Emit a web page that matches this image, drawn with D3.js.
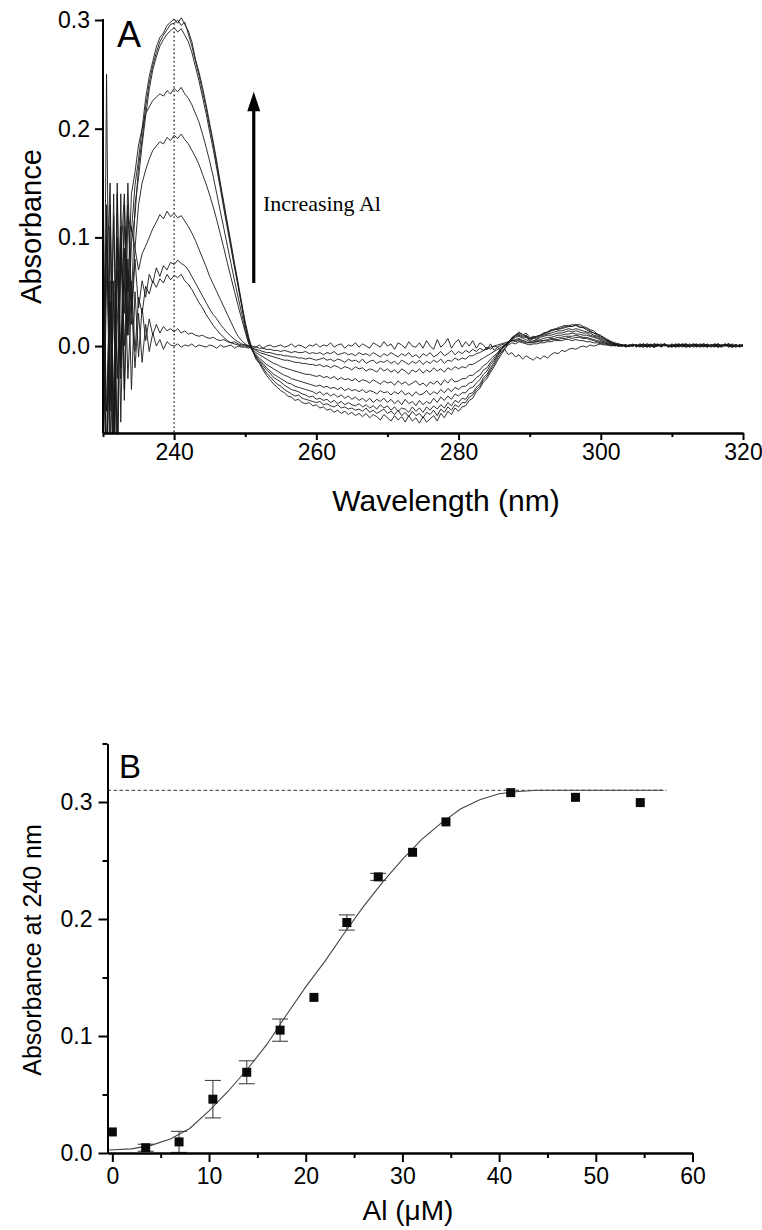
<!DOCTYPE html>
<html>
<head>
<meta charset="utf-8">
<script src="https://cdn.jsdelivr.net/npm/d3@7"></script>
<style>
  body { margin: 0; background: #fff; }
  svg { display: block; }
  text { font-family: "Liberation Sans", Arial, sans-serif; fill: #000; }
</style>
</head>
<body>
<svg id="fig" width="762" height="1230"></svg>
<script>
(function () {
    'use strict';

    // ---- Panel A: difference spectra, milli-absorbance, 0.5 nm steps from 230 to 320 nm
    // spec0 = no Al ... spec9 = highest Al. one line = 5 nm
    const wlStart = 230, wlStep = 0.5;

    const spec0 = [
        100, -60, 60, -130, 140, -70, 90, -30, 40, -20,
        30, -15, 20, -5, 12, 0, 6, -3, 4, 1,
        0, 2, -1, 1, 0, 2, -1, 1, 0, -1,
        1, 0, -2, 1, -1, 0, 1, -2, 0, -1,
        -1, -2, 0, -1, 1, -2, 0, 1, -1, 0,
        1, -1, 0, 2, -1, 1, 0, -2, 1, 0,
        2, -1, 1, 0, 3, -1, 1, 2, -2, 1,
        0, 3, -1, 2, 0, -2, 3, 1, -1, 4,
        0, 2, -3, 3, 1, -2, 4, 0, -1, 3,
        -2, 5, 0, -3, 6, -1, 2, 7, -2, 3,
        6, -1, 4, 0, 5, -2, 3, 1, -3, 2,
        -4, -1, -6, -3, -8, -6, -10, -8, -12, -9,
        -11, -13, -10, -12, -9, -11, -8, -6, -7, -4,
        -5, -3, -2, -3, -1, 0, -1, 1, 0, 1,
        2, 1, 1, 0, 1, 0, 1, -1, 0, 1,
        0, 1, 0, 2, 0, -1, 1, 0, 1, 0,
        1, 0, 1, -1, 1, 0, 2, 0, 1, 0,
        -1, 1, 0, 1, 0, 2, 0, 1, -1, 1,
        0];
    const spec1 = [
        -70, 130, -100, 50, -150, 100, 0, 80, -40, 50,
        -10, 35, 5, 25, 10, 20, 12, 18, 14, 16,
        13, 16, 12, 14, 11, 12, 10, 9, 10, 8,
        7, 8, 6, 5, 6, 4, 3, 4, 2, 1,
        1, 0, -1, -1, -2, -2, -3, -3, -4, -4,
        -5, -4, -5, -6, -5, -6, -6, -5, -7, -6,
        -7, -6, -8, -6, -7, -5, -8, -7, -6, -8,
        -7, -9, -6, -8, -7, -9, -6, -8, -10, -7,
        -9, -6, -8, -10, -7, -9, -6, -10, -8, -11,
        -7, -9, -6, -10, -8, -5, -9, -7, -4, -8,
        -5, -7, -4, -6, -3, -5, -2, -4, -1, -3,
        0, -1, 1, 2, 1, 3, 2, 4, 3, 2,
        1, 2, 2, 3, 3, 4, 4, 5, 5, 5,
        6, 6, 5, 6, 5, 5, 4, 4, 3, 3,
        2, 2, 1, 1, 0, 1, 0, 1, 0, 0,
        1, 0, 2, 0, 1, -1, 1, 0, 1, 1,
        0, 1, -1, 1, 0, 2, 0, 1, 0, 1,
        0, 1, 1, -1, 0, 1, 2, 0, 1, 0,
        1];
    const spec2 = [
        150, -110, 40, -140, 90, -20, 130, 10, 60, -5,
        45, 30, 55, 48, 60, 54, 62, 58, 66, 61,
        65, 63, 66, 60, 57, 52, 46, 40, 35, 29,
        24, 19, 15, 11, 8, 5, 3, 2, 1, 0,
        0, -1, -2, -3, -4, -5, -6, -6, -7, -8,
        -8, -9, -9, -10, -10, -11, -11, -12, -11, -12,
        -13, -12, -11, -13, -12, -14, -12, -13, -15, -12,
        -14, -13, -15, -12, -16, -14, -13, -16, -14, -15,
        -13, -16, -14, -17, -13, -15, -17, -14, -16, -13,
        -17, -14, -16, -13, -15, -12, -16, -13, -14, -11,
        -13, -11, -12, -9, -9, -7, -6, -4, -3, -1,
        0, 1, 2, 3, 4, 5, 4, 5, 4, 3,
        3, 3, 4, 4, 5, 5, 6, 6, 6, 7,
        7, 8, 7, 8, 8, 7, 7, 6, 5, 4,
        3, 3, 2, 1, 1, 0, 0, 1, 0, 1,
        1, 0, -1, 1, 0, 2, 1, 0, 1, 0,
        0, 2, 1, 0, -1, 1, 0, 1, 2, 0,
        1, -1, 0, 1, 1, 0, 2, 0, 1, -1,
        0];
    const spec3 = [
        -130, 60, 150, -90, 20, 110, -50, 70, 20, 80,
        35, 60, 45, 66, 58, 72, 64, 74, 70, 77,
        75, 79, 76, 74, 70, 64, 58, 52, 46, 40,
        34, 29, 25, 20, 16, 12, 9, 6, 4, 2,
        1, 0, -2, -4, -6, -7, -8, -9, -10, -11,
        -12, -13, -13, -14, -15, -15, -16, -16, -17, -17,
        -18, -17, -19, -18, -20, -18, -19, -21, -19, -20,
        -22, -19, -21, -20, -23, -21, -22, -24, -20, -23,
        -21, -24, -22, -25, -21, -23, -26, -22, -24, -21,
        -25, -22, -24, -20, -23, -21, -24, -20, -22, -19,
        -21, -19, -20, -17, -17, -15, -13, -11, -9, -7,
        -5, -3, -1, 1, 3, 5, 5, 6, 5, 4,
        3, 4, 4, 5, 5, 6, 7, 7, 8, 8,
        9, 9, 9, 10, 9, 8, 8, 7, 6, 5,
        4, 3, 2, 2, 1, 0, 1, 0, 0, 1,
        0, 1, 1, -1, 0, 1, 2, 0, 1, 0,
        -1, 1, 0, 1, 2, 0, 1, 1, 0, -1,
        1, 0, 1, 2, 0, 1, 0, -1, 1, 0,
        1];
    const spec4 = [
        120, -150, 40, -70, 100, -10, 60, 130, 30, 90,
        70, 85, 92, 100, 108, 114, 121, 117, 124, 119,
        122, 118, 120, 115, 110, 104, 97, 89, 81, 73,
        64, 57, 50, 43, 36, 29, 22, 15, 9, 5,
        2, 0, -3, -6, -8, -10, -12, -14, -16, -17,
        -19, -20, -21, -22, -23, -24, -25, -26, -26, -27,
        -28, -27, -29, -28, -30, -28, -31, -29, -31, -30,
        -32, -30, -33, -31, -32, -34, -31, -33, -35, -32,
        -34, -33, -36, -32, -35, -33, -36, -34, -32, -36,
        -34, -37, -33, -35, -32, -36, -31, -34, -30, -33,
        -32, -30, -30, -27, -27, -24, -22, -18, -16, -12,
        -9, -6, -2, 1, 3, 5, 6, 7, 5, 6,
        4, 5, 5, 6, 7, 8, 8, 9, 10, 10,
        11, 11, 12, 11, 11, 10, 10, 9, 8, 7,
        5, 4, 3, 2, 1, 0, 1, 0, 1, 0,
        1, 0, 2, 0, 1, -1, 0, 1, 2, 0,
        1, -1, 0, 1, 2, 0, 1, 0, -1, 1,
        1, 0, 2, 1, 0, 1, -1, 0, 1, 0,
        1];
    const spec5 = [
        -90, 100, -60, 120, -30, 80, 140, 20, 110, 90,
        130, 150, 162, 172, 180, 184, 188, 186, 192, 189,
        194, 191, 195, 190, 186, 180, 174, 167, 158, 149,
        139, 128, 116, 103, 90, 76, 63, 50, 37, 25,
        13, 2, -4, -8, -11, -14, -17, -19, -21, -23,
        -25, -27, -28, -30, -31, -32, -33, -34, -35, -36,
        -37, -36, -38, -37, -39, -38, -40, -38, -41, -39,
        -41, -40, -42, -40, -43, -41, -42, -44, -41, -43,
        -42, -45, -42, -44, -41, -45, -43, -46, -42, -45,
        -44, -41, -45, -42, -44, -40, -43, -39, -42, -38,
        -40, -37, -37, -34, -33, -29, -27, -22, -20, -15,
        -11, -7, -3, 0, 3, 6, 8, 9, 7, 8,
        5, 7, 6, 8, 9, 10, 10, 11, 12, 12,
        13, 14, 13, 14, 13, 12, 12, 10, 9, 8,
        6, 5, 4, 2, 1, 1, 0, 1, 0, 1,
        0, 1, -1, 1, 0, 2, 1, 0, 1, -1,
        1, 0, 2, 0, 1, -1, 1, 0, 1, 2,
        0, 1, 0, -1, 1, 1, 0, 2, 0, 1,
        0];
    const spec6 = [
        40, -120, 130, -80, 70, -20, 110, 50, 140, 160,
        185, 200, 214, 220, 226, 229, 232, 230, 235, 232,
        237, 234, 238, 232, 228, 222, 214, 206, 195, 183,
        170, 156, 140, 124, 108, 92, 76, 60, 45, 30,
        15, 3, -4, -9, -13, -16, -20, -23, -26, -28,
        -30, -32, -34, -35, -37, -38, -39, -40, -41, -42,
        -44, -42, -45, -43, -46, -44, -47, -45, -48, -46,
        -49, -47, -50, -48, -51, -48, -52, -49, -51, -48,
        -52, -49, -53, -50, -54, -49, -53, -51, -55, -50,
        -54, -51, -53, -48, -52, -47, -50, -46, -49, -44,
        -46, -43, -43, -39, -38, -34, -31, -26, -23, -17,
        -13, -8, -3, 1, 4, 7, 9, 10, 8, 9,
        6, 8, 7, 9, 10, 11, 12, 13, 14, 14,
        15, 16, 15, 16, 15, 14, 13, 12, 10, 9,
        7, 6, 4, 3, 2, 1, 0, 1, 0, 1,
        1, -1, 1, 0, 2, 0, 1, -1, 1, 0,
        2, 0, 1, 1, -1, 0, 2, 1, 0, 1,
        -1, 1, 0, 2, 0, 1, 1, -1, 1, 0,
        1];
    const spec7 = [
        -100, 120, -50, 140, -110, 90, 30, 150, 40, 130,
        155, 185, 212, 236, 254, 266, 276, 282, 287, 290,
        293, 289, 292, 286, 280, 270, 257, 244, 229, 214,
        197, 181, 163, 145, 126, 108, 90, 72, 55, 37,
        19, 5, -4, -10, -14, -18, -22, -25, -29, -31,
        -33, -36, -38, -40, -41, -42, -44, -45, -47, -46,
        -49, -48, -50, -49, -52, -50, -53, -51, -54, -52,
        -54, -55, -53, -56, -54, -57, -55, -58, -54, -57,
        -55, -59, -56, -60, -57, -58, -61, -56, -60, -57,
        -61, -56, -59, -55, -58, -54, -57, -52, -55, -50,
        -52, -48, -49, -44, -43, -38, -35, -29, -26, -20,
        -15, -9, -4, 0, 4, 7, 10, 11, 9, 10,
        7, 8, 9, 10, 12, 12, 14, 15, 16, 16,
        17, 18, 18, 19, 17, 17, 15, 13, 12, 10,
        8, 7, 5, 3, 2, 1, 1, 0, 1, 1,
        0, 2, 1, -1, 1, 0, 1, 2, 0, 1,
        -1, 1, 0, 2, 1, 0, 1, -1, 1, 0,
        2, 0, 1, 0, -1, 1, 2, 0, 1, 0,
        1];
    const spec8 = [
        80, -140, 110, -60, 150, -30, 60, 10, 95, 120,
        165, 190, 220, 242, 258, 270, 280, 286, 291, 296,
        297, 300, 295, 298, 287, 276, 262, 249, 234, 219,
        202, 186, 167, 148, 129, 111, 92, 74, 56, 38,
        20, 6, -4, -11, -15, -20, -25, -28, -32, -35,
        -37, -40, -42, -44, -46, -45, -48, -49, -50, -51,
        -52, -51, -54, -53, -55, -56, -54, -57, -56, -58,
        -57, -59, -58, -60, -57, -61, -59, -62, -60, -58,
        -62, -60, -63, -59, -64, -61, -65, -60, -64, -62,
        -66, -61, -63, -59, -64, -58, -61, -56, -59, -54,
        -56, -52, -52, -47, -45, -40, -37, -31, -28, -22,
        -17, -11, -6, -2, 3, 8, 10, 12, 11, 9,
        7, 9, 8, 10, 11, 13, 14, 16, 15, 17,
        18, 19, 18, 20, 18, 17, 16, 14, 12, 11,
        9, 8, 5, 4, 2, 2, 1, 0, 1, 0,
        1, 0, 2, 0, -1, 1, 0, 1, 2, -1,
        0, 1, 2, 0, 1, -1, 1, 2, 0, 1,
        1, 0, 2, -1, 1, 0, 1, -1, 0, 1,
        1];
    const spec9 = [
        -150, 250, -120, 60, -90, 140, -40, 120, 105, 148,
        172, 200, 228, 248, 262, 275, 284, 288, 295, 298,
        301, 297, 302, 296, 290, 280, 264, 252, 238, 222,
        205, 188, 170, 150, 132, 113, 95, 76, 58, 40,
        22, 8, -3, -12, -16, -22, -27, -31, -35, -38,
        -41, -43, -46, -47, -50, -49, -52, -53, -52, -55,
        -54, -57, -56, -59, -58, -61, -59, -62, -60, -63,
        -61, -64, -62, -65, -62, -66, -63, -65, -68, -63,
        -66, -69, -64, -68, -65, -70, -64, -69, -66, -71,
        -65, -70, -67, -64, -69, -62, -66, -60, -63, -57,
        -60, -56, -55, -50, -48, -42, -39, -33, -30, -24,
        -19, -13, -8, -3, 2, 6, 10, 13, 10, 12,
        8, 7, 9, 10, 12, 13, 15, 15, 17, 18,
        19, 18, 20, 19, 20, 18, 17, 15, 14, 11,
        10, 7, 6, 4, 3, 2, 1, 1, 0, 2,
        -1, 1, 0, 2, 1, -1, 1, 0, 2, 0,
        1, -1, 1, 2, 0, 1, -1, 0, 1, 2,
        0, 1, -1, 1, 0, 2, 0, 1, -1, 1,
        0];
    const spectra = [spec0, spec1, spec2, spec3, spec4, spec5, spec6, spec7, spec8, spec9];

    const aTicksX = [240, 260, 280, 300, 320];
    const aMinorX = [230, 250, 270, 290, 310];
    const aTicksY = [0.0, 0.1, 0.2, 0.3];
    const markWl = 240;

    // ---- Panel B: titration at 240 nm
    const alConc = [0, 3.45, 6.9, 10.4, 13.9, 17.35, 20.85, 24.25, 27.5, 31.05, 34.5, 41.2, 47.9, 54.6];
    const abs240 = [0.018, 0.0045, 0.0095, 0.046, 0.069, 0.105, 0.133, 0.197, 0.236, 0.257, 0.283, 0.308, 0.304, 0.2995];
    const abs240Err = [0, 0.003, 0.009, 0.016, 0.0098, 0.0095, 0, 0.0065, 0.003, 0, 0, 0, 0, 0];
    const fitAl = [-0.4, 2, 4, 6, 8, 10, 12, 14, 16, 18, 20, 22, 24, 26, 28, 30, 32, 34, 36, 38, 40, 42, 44, 57];
    const fitAbs = [0.0026, 0.0035, 0.0065, 0.012, 0.021, 0.036, 0.053, 0.072, 0.093, 0.118, 0.142, 0.164, 0.188, 0.211, 0.232, 0.251, 0.268, 0.282, 0.294, 0.302, 0.307, 0.309, 0.310, 0.310];
    const plateau = 0.31;
    const plateauEnd = 57.3;

    const bTicksX = [0, 10, 20, 30, 40, 50, 60];
    const bMinorX = [5, 15, 25, 35, 45, 55];
    const bTicksY = [0.0, 0.1, 0.2, 0.3];
    const bMinorY = [0.05, 0.15, 0.25, 0.35];

    const svg = d3.select('#fig');
    const fmt = d3.format(".1f");

    function styleAxis(g, fontSize) {
        g.select(".domain").attr("stroke", "#000").attr("stroke-width", 2);
        g.selectAll(".tick line").attr("stroke", "#000").attr("stroke-width", 2);
        g.selectAll(".tick text")
            .attr("fill", "#000")
            .style("font-family", '"Liberation Sans", Arial, sans-serif')
            .style("font-size", fontSize + "px");
    }

    // ================= Panel A =================
    const xA = d3.scaleLinear().domain([230, 320]).range([103, 743]);
    const yA = d3.scaleLinear().domain([-0.08, 0.3]).range([433, 20]);

    svg.append("defs").append("clipPath").attr("id", "clipA")
        .append("rect").attr("x", 103).attr("y", 0).attr("width", 640).attr("height", 433);

    const gA = svg.append("g");

    // dotted line at 240 nm
    gA.append("line")
        .attr("x1", xA(markWl)).attr("x2", xA(markWl))
        .attr("y1", yA(0.3) - 1).attr("y2", yA(-0.08))
        .attr("stroke", "#222").attr("stroke-width", 1.3)
        .attr("stroke-dasharray", "1.6,2.6");

    const specLine = d3.line()
        .x((d, i) => xA(wlStart + i * wlStep))
        .y(d => yA(d / 1000));

    gA.append("g")
        .attr("clip-path", "url(#clipA)")
        .selectAll("path")
        .data(spectra)
        .join("path")
        .attr("d", specLine)
        .attr("fill", "none")
        .attr("stroke", "#1a1a1a")
        .attr("stroke-width", 0.9)
        .attr("stroke-linejoin", "round");

    // axes
    const axAx = gA.append("g").attr("transform", `translate(0,${yA(-0.08)})`)
        .call(d3.axisBottom(xA).tickValues(aTicksX).tickSize(7).tickSizeOuter(0).tickPadding(4).tickFormat(d3.format("d")));
    styleAxis(axAx, 23);
    const axAxMinor = gA.append("g").attr("transform", `translate(0,${yA(-0.08)})`)
        .call(d3.axisBottom(xA).tickValues(aMinorX).tickSize(4).tickSizeOuter(0).tickFormat(""));
    styleAxis(axAxMinor, 23);

    const axAy = gA.append("g").attr("transform", `translate(${xA(230)},0)`)
        .call(d3.axisLeft(yA).tickValues(aTicksY).tickSize(8).tickSizeOuter(0).tickPadding(5).tickFormat(fmt));
    axAy.select(".domain").attr("d", `M0,${yA(0.3) - 1}V${yA(-0.08)}`);
    styleAxis(axAy, 23);

    // arrow + label
    const arrowX = xA(251.2);
    gA.append("line")
        .attr("x1", arrowX).attr("x2", arrowX)
        .attr("y1", yA(0.058)).attr("y2", yA(0.218))
        .attr("stroke", "#000").attr("stroke-width", 3.2);
    gA.append("path")
        .attr("d", `M${arrowX},${yA(0.234)}L${arrowX - 6.5},${yA(0.216)}L${arrowX + 6.5},${yA(0.216)}Z`)
        .attr("fill", "#000");
    gA.append("text")
        .attr("x", xA(252.5)).attr("y", yA(0.124))
        .style("font-family", '"Liberation Serif", "Times New Roman", serif')
        .style("font-size", "22px")
        .text("Increasing Al");

    gA.append("text").attr("x", 117).attr("y", 47).style("font-size", "36px").text("A");

    gA.append("text")
        .attr("transform", `translate(41,${yA(0.11)}) rotate(-90)`)
        .attr("text-anchor", "middle")
        .style("font-size", "29px")
        .text("Absorbance");
    gA.append("text")
        .attr("x", 446).attr("y", 511)
        .attr("text-anchor", "middle")
        .style("font-size", "30px")
        .text("Wavelength (nm)");

    // ================= Panel B =================
    const xB = d3.scaleLinear().domain([-0.5, 60]).range([107.5, 692.5]);
    const yB = d3.scaleLinear().domain([0, 0.35]).range([1153, 743.5]);
    const gB = svg.append("g");

    gB.append("line")
        .attr("x1", xB(-0.5)).attr("x2", xB(plateauEnd))
        .attr("y1", yB(plateau)).attr("y2", yB(plateau))
        .attr("stroke", "#333").attr("stroke-width", 1)
        .attr("stroke-dasharray", "3.5,2.5");

    const fitLine = d3.line().x((d, i) => xB(fitAl[i])).y(d => yB(d));
    gB.append("path")
        .attr("d", fitLine(fitAbs))
        .attr("fill", "none")
        .attr("stroke", "#444")
        .attr("stroke-width", 1.1);

    const pts = alConc.map((c, i) => ({c: c, a: abs240[i], e: abs240Err[i]}));
    const errG = gB.append("g").attr("stroke", "#444").attr("stroke-width", 1.1);
    pts.filter(p => p.e > 0).forEach(p => {
        const cx = xB(p.c);
        errG.append("line").attr("x1", cx).attr("x2", cx).attr("y1", yB(p.a - p.e)).attr("y2", yB(p.a + p.e));
        errG.append("line").attr("x1", cx - 8).attr("x2", cx + 8).attr("y1", yB(p.a - p.e)).attr("y2", yB(p.a - p.e));
        errG.append("line").attr("x1", cx - 8).attr("x2", cx + 8).attr("y1", yB(p.a + p.e)).attr("y2", yB(p.a + p.e));
    });

    gB.append("g").selectAll("rect")
        .data(pts)
        .join("rect")
        .attr("x", d => xB(d.c) - 4.5)
        .attr("y", d => yB(d.a) - 4.5)
        .attr("width", 9).attr("height", 9)
        .attr("fill", "#0a0a0a");

    const axBx = gB.append("g").attr("transform", `translate(0,${yB(0)})`)
        .call(d3.axisBottom(xB).tickValues(bTicksX).tickSize(9).tickSizeOuter(0).tickPadding(6).tickFormat(d3.format("d")));
    styleAxis(axBx, 23);
    const axBxMinor = gB.append("g").attr("transform", `translate(0,${yB(0)})`)
        .call(d3.axisBottom(xB).tickValues(bMinorX).tickSize(5).tickSizeOuter(0).tickFormat(""));
    styleAxis(axBxMinor, 23);

    const axBy = gB.append("g").attr("transform", `translate(${xB(-0.5)},0)`)
        .call(d3.axisLeft(yB).tickValues(bTicksY).tickSize(9).tickSizeOuter(0).tickPadding(6).tickFormat(fmt));
    styleAxis(axBy, 23);
    const axByMinor = gB.append("g").attr("transform", `translate(${xB(-0.5)},0)`)
        .call(d3.axisLeft(yB).tickValues(bMinorY).tickSize(5).tickSizeOuter(0).tickFormat(""));
    styleAxis(axByMinor, 23);

    gB.append("text").attr("x", 119).attr("y", 778).style("font-size", "33px").text("B");

    gB.append("text")
        .attr("transform", `translate(41,950) rotate(-90)`)
        .attr("text-anchor", "middle")
        .style("font-size", "25px")
        .text("Absorbance at 240 nm");
    gB.append("text")
        .attr("x", 408).attr("y", 1220)
        .attr("text-anchor", "middle")
        .style("font-size", "28px")
        .text("Al (μM)");
}());
</script>
</body>
</html>
